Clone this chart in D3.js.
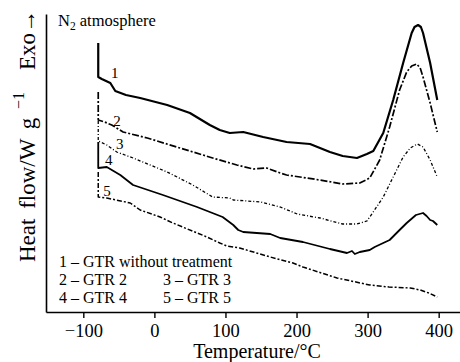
<!DOCTYPE html>
<html lang="en">
<head>
    <meta charset="UTF-8">
    <title>DSC curves</title>
    <script src="https://cdn.jsdelivr.net/npm/d3@7"></script>
    <style>
        body { margin: 0; background: #fff; }
        svg { display: block; font-family: "Liberation Serif", "Times New Roman", serif; }
    </style>
</head>
<body>
    <svg width="460" height="362" id="mainsvg"></svg>
    <script>
        // temperature (°C) / heat flow (arbitrary units, exo up)
        const gtr1 = [[-79, 269], [-79, 235], [-74, 233], [-62, 229], [-55, 221], [-40, 217], [-20, 214], [18, 207], [50, 199], [78, 187], [92, 182], [106, 179], [125, 180], [153, 175], [186, 170], [219, 168], [247, 160], [265, 156], [285, 154], [299, 158], [308, 161], [322, 179], [336, 212], [350, 249], [362, 279], [366, 285], [371, 287], [375, 285], [378, 279], [388, 249], [398, 212]];
        const gtr2 = [[-79, 220], [-79, 192], [-70, 190], [-60, 187], [-44, 180], [-10, 174], [36, 164], [82, 154], [116, 147], [139, 143], [158, 144], [177, 139], [186, 137], [233, 132], [265, 128], [289, 129], [303, 134], [317, 152], [331, 185], [345, 222], [355, 240], [362, 246], [369, 248], [374, 244], [378, 235], [388, 209], [398, 180]];
        const gtr3 = [[-79, 191], [-79, 171], [-67, 167], [-53, 160], [-30, 154], [18, 140], [54, 127], [82, 115], [106, 114], [111, 112], [150, 110], [177, 105], [201, 98], [233, 94], [265, 88], [285, 88], [299, 91], [307, 99], [322, 115], [336, 135], [350, 155], [360, 164], [370, 168], [378, 165], [388, 152], [398, 135]];
        const gtr4 = [[-79, 170], [-79, 144], [-67, 145], [-48, 137], [-30, 127], [12, 117], [60, 105], [96, 95], [111, 87], [118, 82], [125, 80], [163, 78], [177, 74], [209, 70], [247, 63], [271, 59], [278, 61], [282, 58], [289, 60], [303, 62], [310, 65], [331, 72], [345, 82], [355, 89], [368, 97], [378, 99], [383, 96], [388, 92], [392, 91], [398, 87]];
        const gtr5 = [[-79, 140], [-79, 115], [-67, 114], [-34, 109], [-20, 102], [8, 95], [26, 89], [74, 75], [92, 69], [102, 66], [120, 64], [163, 55], [195, 49], [209, 45], [257, 34], [303, 27], [330, 25], [360, 24], [374, 22], [386, 19], [398, 15]];

        const seriesNames = ["1", "2", "3", "4", "5"];
        const seriesData = [gtr1, gtr2, gtr3, gtr4, gtr5];
        // where the curve numbers sit (temperature, heat flow)
        const seriesLabelAt = [[-61, 234], [-58, 186], [-54, 163], [-69.5, 147], [-72, 116]];
        const xTicks = [-100, 0, 100, 200, 300, 400];
        const legendRows = [["1 – GTR without treatment"], ["2 – GTR 2", "3 – GTR 3"], ["4 – GTR 4", "5 – GTR 5"]];

        const dash = ["none", "7,2,2,2", "3,2,1,2", "none", "5,2,2,2"];
        const widths = [2.2, 1.7, 1.3, 1.8, 1.5];

        const svg = d3.select("svg");
        const x = d3.scaleLinear().domain([-152.5, 430]).range([46, 460]);
        const y = d3.scaleLinear().domain([0, 298]).range([312, 14]);

        const xAxis = svg.append("g")
            .attr("transform", "translate(0,312)")
            .call(d3.axisBottom(x).tickValues(xTicks).tickSize(6).tickSizeOuter(0));
        xAxis.select(".domain").attr("stroke-width", 1.6);
        xAxis.selectAll(".tick line").attr("stroke-width", 1.4);
        xAxis.selectAll(".tick text")
            .attr("y", 12)
            .attr("font-size", 18.5)
            .attr("font-family", "Liberation Serif")
            .attr("fill", "#000");

        const yAxis = svg.append("g")
            .attr("transform", "translate(46,0)")
            .call(d3.axisLeft(y).tickValues([]).tickSizeOuter(0));
        yAxis.select(".domain").attr("stroke-width", 1.6);

        const line = d3.line().x(d => x(d[0])).y(d => y(d[1]));

        svg.append("g").selectAll("path").data(seriesData).join("path")
            .attr("d", line)
            .attr("fill", "none")
            .attr("stroke", "#000")
            .attr("stroke-width", (d, i) => widths[i])
            .attr("stroke-dasharray", (d, i) => dash[i])
            .attr("stroke-linejoin", "round");

        svg.append("g").selectAll("text").data(seriesLabelAt).join("text")
            .attr("x", d => x(d[0]))
            .attr("y", d => y(d[1]))
            .attr("font-size", 15)
            .text((d, i) => seriesNames[i]);

        // atmosphere note
        const note = svg.append("text").attr("x", 58).attr("y", 26).attr("font-size", 16.5);
        note.append("tspan").text("N");
        note.append("tspan").attr("font-size", 11.5).attr("dy", 4).text("2");
        note.append("tspan").attr("dy", -4).text(" atmosphere");

        // legend
        const legend = svg.append("g").attr("font-size", 16);
        legendRows.forEach((row, r) => {
            row.forEach((t, c) => {
                legend.append("text")
                    .attr("x", c === 0 ? 59 : 163)
                    .attr("y", 267 + r * 18)
                    .text(t);
            });
        });

        // axis titles
        svg.append("text")
            .attr("x", 257)
            .attr("y", 358)
            .attr("text-anchor", "middle")
            .attr("font-size", 20)
            .text("Temperature/°C");

        const yl = svg.append("g")
            .attr("transform", "translate(35,262) rotate(-90)")
            .attr("font-size", 23);
        yl.append("text").attr("x", 0)
            .attr("word-spacing", 4)
            .text("Heat flow/W g");
        yl.append("text").attr("x", 153).attr("y", -11).attr("font-size", 16)
            .text("−1");
        yl.append("text").attr("x", 252).attr("text-anchor", "end")
            .text("Exo→");
    </script>
</body>
</html>
